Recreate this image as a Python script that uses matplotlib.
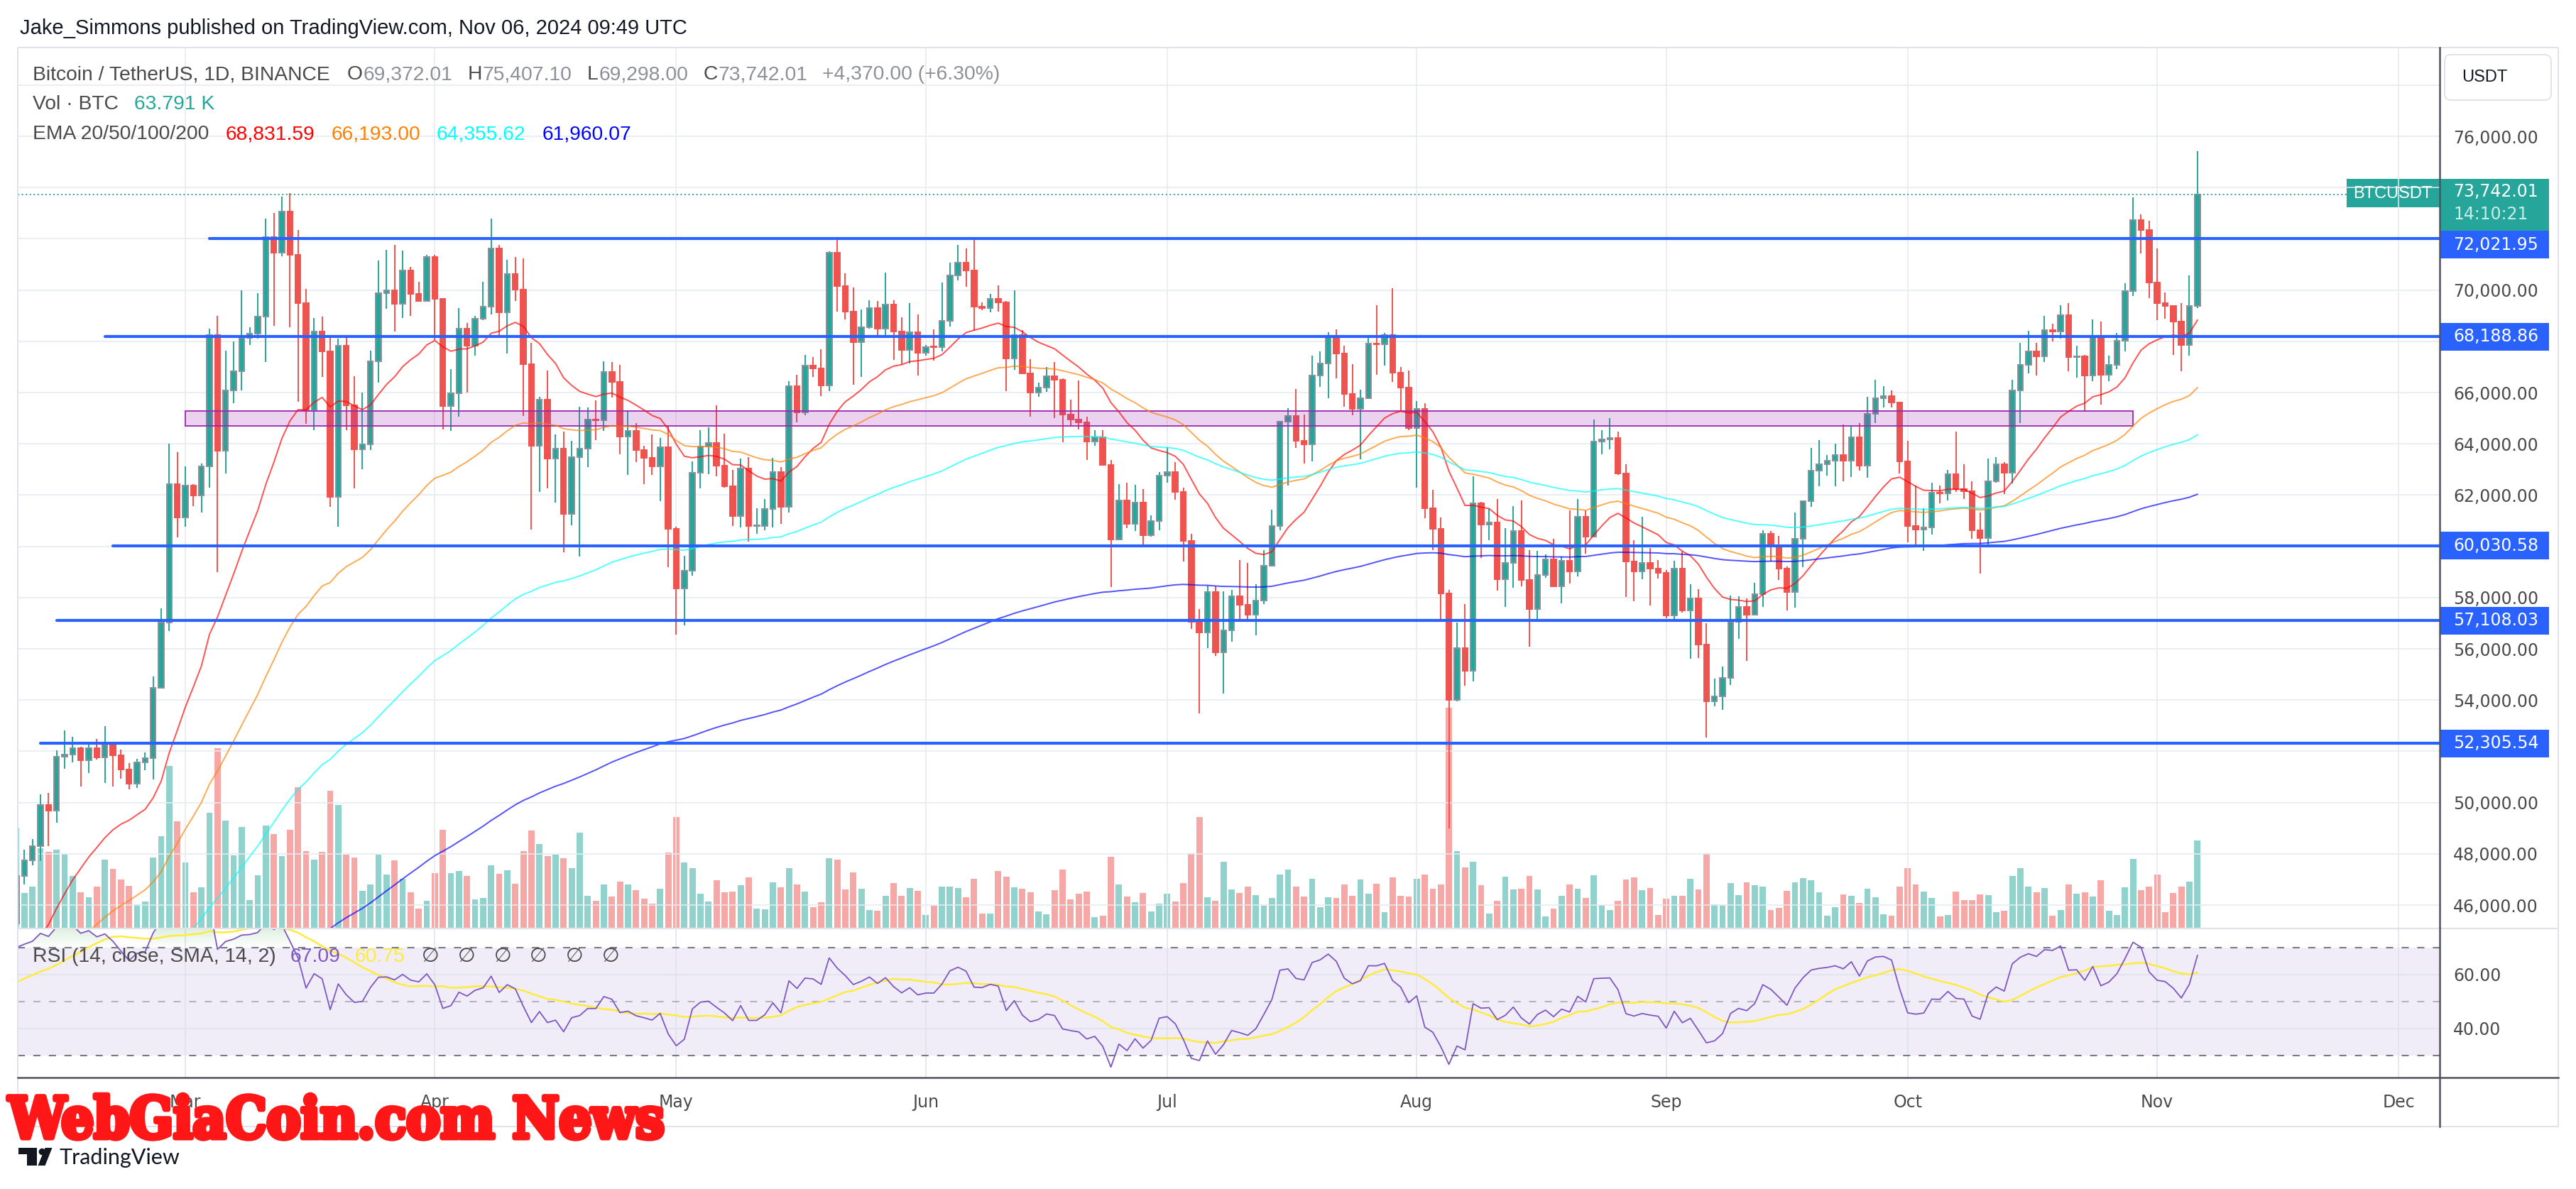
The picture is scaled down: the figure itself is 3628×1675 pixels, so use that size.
import numpy as np
import pandas as pd
import matplotlib
matplotlib.use("Agg")
import matplotlib.pyplot as plt
import matplotlib.dates as mdates
import matplotlib.patheffects as pe
from matplotlib import transforms
from matplotlib.patches import Rectangle, FancyBboxPatch, Polygon, Circle
from matplotlib.lines import Line2D
from matplotlib.path import Path
from matplotlib.colors import LinearSegmentedColormap

plt.rcParams["lines.scale_dashes"] = False

W, H, DPI = 3628, 1675, 100

# ---- data: BTCUSDT daily candles, 2024-02-09 .. 2024-11-06 ----
first_day = "2024-02-09"

opens = [
    # Feb
    45288, 47132, 47751, 48299, 49917, 49699, 51795, 51880, 52124, 51642, 52137, 51774, 52258, 51849, 51288,
    50744, 51568, 51728, 54476, 57037, 62432,
    # Mar
    61130, 62387, 61987, 63113, 68245, 63724, 66074, 66824, 68124, 68313, 68955, 72078, 71452, 73072, 71388,
    69499, 65300, 68393, 67609, 61937, 67840, 65501, 63796, 63990, 67209, 69880, 69988, 69469, 70780, 69850, 69582,
    # Apr
    71281, 69649, 65463, 65963, 68488, 67820, 68897, 69360, 71620, 69146, 70631, 70006, 67117, 63924, 65738,
    63426, 63811, 61277, 63470, 63818, 64941, 64926, 66819, 66414, 64289, 64498, 63770, 63461, 63118, 63866,
    # May
    60672, 58364, 59060, 62882, 63892, 64038, 63162, 62334, 61187, 63049, 60792, 60793, 61448, 62901, 61553,
    66256, 65231, 67051, 66940, 66278, 71446, 70148, 69166, 67969, 68549, 69290, 68507, 69436, 68398, 67652, 68352,
    # Jun
    67540, 67766, 67765, 68809, 70567, 71082, 70757, 69342, 69305, 69648, 69512, 67321, 68243, 66756, 66011,
    66191, 66640, 66490, 65140, 64960, 64828, 64096, 64252, 63180, 60277, 61804, 60864, 61706, 60427, 60987,
    # Jul
    62772, 62899, 62135, 60208, 57050, 56628, 58230, 55857, 56714, 58051, 57725, 57340, 57899, 59231, 60788,
    64870, 65097, 64119, 63975, 66660, 67139, 68165, 67532, 65936, 65372, 65777, 67907, 67896, 68249, 66784, 66188,
    # Aug
    64628, 65354, 61498, 60697, 58161, 54018, 56022, 55134, 61685, 60837, 60923, 58712, 59346, 60587, 58683,
    57541, 58874, 59491, 58427, 59438, 59014, 61157, 60382, 64094, 64178, 64220, 62834, 59415, 59034, 59359, 59123,
    # Sep
    58974, 57301, 59132, 57487, 57971, 56160, 53962, 54160, 54869, 57042, 57635, 57338, 58132, 60498, 59993,
    59132, 58213, 60309, 61759, 62947, 63201, 63348, 63578, 63339, 64262, 63152, 65173, 65769, 65858, 65602,
    # Oct
    63327, 60805, 60650, 60753, 62086, 62058, 62819, 62224, 62160, 60636, 60326, 62540, 63206, 62870, 66083,
    67074, 67620, 67421, 68428, 68378, 69031, 67377, 67426, 66668, 68198, 66698, 67092, 68021, 69962, 72736, 72344,
    # Nov
    70292, 69496, 69374, 68775, 67851, 69372.01,
]

highs = [
    48200, 48170, 48592, 50334, 50368, 52043, 52816, 52572, 52191, 52377, 52488, 52985, 52366, 52065, 51548,
    51698, 51958, 54910, 57588, 64000, 63676,
    63114, 62433, 63231, 68499, 69000, 67637, 67985, 69990, 68541, 69888, 72800, 73000, 73650, 73777, 72357,
    70043, 68904, 68957, 68124, 68100, 68240, 66650, 65999, 67628, 71150, 71561, 71770, 71552, 70916, 70321, 71366,
    71366, 69674, 66903, 69291, 68725, 69000, 70327, 72797, 71758, 71172, 71305, 71227, 67931, 65840, 66868,
    64355, 64486, 64125, 65450, 65419, 65695, 67233, 67200, 67075, 65297, 64820, 63923, 64370, 64228, 64734,
    60780, 59625, 63320, 64545, 64646, 65494, 64390, 62984, 63421, 63469, 61490, 61851, 63450, 63099, 66444,
    66700, 67459, 67400, 67700, 71515, 71979, 70666, 70096, 69250, 69610, 69562, 70687, 69591, 68935, 69500, 69044,
    67860, 68460, 70288, 71063, 71758, 71625, 71997, 69524, 69858, 70195, 69563, 69999, 68449, 67315, 66403,
    66998, 67188, 66556, 65738, 66482, 65066, 64526, 64523, 63369, 62420, 62487, 62389, 62225, 61224, 62892,
    63861, 63288, 62285, 60499, 57546, 58475, 58449, 58236, 58296, 59470, 59359, 58526, 59850, 61420, 64900,
    65388, 66128, 65133, 67442, 67598, 68366, 68474, 67818, 67102, 66112, 68200, 69399, 68318, 70079, 66988, 66849,
    65659, 65596, 62198, 61117, 58305, 57040, 57736, 62745, 61744, 61470, 61858, 60711, 61578, 61800, 59849,
    59817, 59686, 60284, 59617, 61400, 61834, 61400, 64955, 64521, 65000, 64481, 63212, 60234, 61166, 59944, 59462,
    59076, 59425, 59810, 58519, 58327, 56995, 54850, 55318, 58088, 58044, 57981, 58588, 60625, 60610, 60395,
    59210, 61320, 61786, 63850, 64133, 63559, 64000, 64745, 64688, 64817, 65839, 66498, 66260, 66076, 65618,
    64130, 62370, 61477, 62484, 62370, 62975, 64478, 63200, 62543, 61321, 63417, 63480, 63285, 66500, 67950,
    68424, 67939, 69000, 68693, 69400, 69500, 67836, 67472, 68850, 68771, 67454, 68332, 70270, 73620, 72961, 72700,
    71632, 69914, 69391, 69500, 70577, 75407.10,
]

lows = [
    45242, 46800, 47558, 47710, 48300, 49225, 51314, 51566, 50625, 51163, 51677, 50760, 50625, 50940, 50521,
    50585, 51279, 50901, 54450, 56691, 60364,
    60777, 61561, 61320, 62300, 59005, 62849, 65600, 66082, 67861, 68094, 67194, 68620, 71334, 68555, 65630,
    64780, 64533, 66600, 61555, 60775, 64529, 62260, 63000, 63772, 66386, 69280, 68380, 68903, 69007, 69540, 69562,
    68062, 64550, 64493, 65064, 66011, 67447, 68824, 69043, 68210, 67518, 69567, 65086, 60660, 62134, 62274,
    61716, 59768, 60833, 59600, 63090, 64160, 64500, 65800, 63589, 62794, 63297, 62424, 62781, 61765, 59191,
    56552, 56911, 58849, 62274, 62822, 62746, 62285, 60800, 60749, 60187, 60492, 60632, 60750, 60888, 61330,
    64832, 65119, 66600, 65857, 66060, 69162, 68842, 66312, 66600, 68500, 68128, 68250, 67277, 67124, 67128, 66670,
    67447, 67257, 67612, 68567, 70383, 70119, 68420, 69210, 69130, 69172, 66051, 66902, 66765, 65056, 65848,
    66034, 65000, 64060, 64666, 64559, 63379, 63911, 63180, 58402, 60239, 60712, 60606, 60063, 60383, 60632,
    62497, 61806, 59400, 56771, 53485, 56018, 55724, 54260, 56289, 57157, 57178, 56542, 57756, 59218, 60632,
    62373, 63854, 63238, 63329, 66222, 65777, 66559, 65441, 65111, 63400, 65741, 66705, 67067, 66428, 65302, 64530,
    62302, 61100, 59850, 57122, 49000, 53962, 54558, 54730, 59535, 60242, 58286, 57642, 58392, 58433, 56078,
    57098, 58783, 58408, 57787, 58548, 58823, 59724, 60342, 63580, 63773, 62800, 58034, 57860, 58716, 57700, 58744,
    57201, 57128, 57415, 55606, 55643, 52550, 53745, 53629, 54591, 56386, 55545, 57324, 57632, 59400, 58691,
    57493, 57610, 59175, 61555, 62350, 62758, 62357, 62538, 62700, 62947, 62670, 64819, 65422, 65432, 62856,
    60164, 59996, 59828, 60459, 61689, 61798, 62128, 61860, 60300, 58946, 60087, 62487, 62050, 62457, 64800,
    66750, 66666, 67192, 68010, 68100, 66835, 66571, 65260, 66450, 65522, 66439, 66913, 67618, 69760, 71436, 69685,
    68820, 68880, 67478, 66835, 67450, 69298.00,
]

closes = [
    47132, 47751, 48299, 49917, 49699, 51795, 51880, 52124, 51642, 52137, 51774, 52258, 51849, 51288, 50744,
    51568, 51728, 54476, 57037, 62432, 61130,
    62387, 61987, 63113, 68245, 63724, 66074, 66824, 68124, 68313, 68955, 72078, 71452, 73072, 71388, 69499,
    65300, 68393, 67609, 61937, 67840, 65501, 63796, 63990, 67209, 69880, 69988, 69469, 70780, 69850, 69582, 71281,
    69649, 65463, 65963, 68488, 67820, 68897, 69360, 71620, 69146, 70631, 70006, 67117, 63924, 65738, 63426,
    63811, 61277, 63470, 63818, 64941, 64926, 66819, 66414, 64289, 64498, 63770, 63461, 63118, 63866, 60672,
    58364, 59060, 62882, 63892, 64038, 63162, 62334, 61187, 63049, 60792, 60793, 61448, 62901, 61553, 66256,
    65231, 67051, 66940, 66278, 71446, 70148, 69166, 67969, 68549, 69290, 68507, 69436, 68398, 67652, 68352, 67540,
    67766, 67765, 68809, 70567, 71082, 70757, 69342, 69305, 69648, 69512, 67321, 68243, 66756, 66011, 66191,
    66640, 66490, 65140, 64960, 64828, 64096, 64252, 63180, 60277, 61804, 60864, 61706, 60427, 60987, 62772,
    62899, 62135, 60208, 57050, 56628, 58230, 55857, 56714, 58051, 57725, 57340, 57899, 59231, 60788, 64870,
    65097, 64119, 63975, 66660, 67139, 68165, 67532, 65936, 65372, 65777, 67907, 67896, 68249, 66784, 66188, 64628,
    65354, 61498, 60697, 58161, 54018, 56022, 55134, 61685, 60837, 60923, 58712, 59346, 60587, 58683, 57541,
    58874, 59491, 58427, 59438, 59014, 61157, 60382, 64094, 64178, 64220, 62834, 59415, 59034, 59359, 59123, 58974,
    57301, 59132, 57487, 57971, 56160, 53962, 54160, 54869, 57042, 57635, 57338, 58132, 60498, 59993, 59132,
    58213, 60309, 61759, 62947, 63201, 63348, 63578, 63339, 64262, 63152, 65173, 65769, 65858, 65602, 63327,
    60805, 60650, 60753, 62086, 62058, 62819, 62224, 62160, 60636, 60326, 62540, 63206, 62870, 66083, 67074,
    67620, 67421, 68428, 68378, 69031, 67377, 67426, 66668, 68198, 66698, 67092, 68021, 69962, 72736, 72344, 70292,
    69496, 69374, 68775, 67851, 69372, 73742.01,
]

# volume in thousands of BTC
volumes_k = [
    73.1, 25.6, 30.3, 58.0, 55.7, 57.0, 53.9, 37.8, 25.9, 22.5, 30.3, 49.8, 43.0, 35.4, 30.8, 17.3, 19.2, 51.5,
    67.1, 118.0, 77.8,
    47.7, 25.9, 29.5, 84.0, 131.0, 78.3, 52.9, 73.6, 20.2, 38.4, 74.7, 68.4, 52.4, 71.5, 102.6, 56.0, 49.8, 55.5,
    100.1, 89.7, 53.4, 51.3, 27.0, 31.6, 53.4, 38.9, 49.2, 35.8, 25.9, 14.0, 19.7,
    39.9, 71.5, 39.9, 41.5, 37.8, 20.7, 21.8, 45.6, 39.4, 42.0, 32.1, 56.0, 71.0, 61.2, 52.4, 53.4, 50.8, 43.5,
    69.5, 23.3, 19.7, 31.6, 22.8, 33.7, 31.6, 27.6, 21.3, 17.6, 28.5, 55.0,
    80.9, 47.7, 43.5, 24.9, 19.2, 34.7, 25.9, 26.4, 31.1, 36.8, 14.0, 13.5, 33.2, 29.5, 43.5, 31.6, 26.4, 15.0,
    18.7, 50.8, 49.8, 28.0, 40.4, 28.5, 13.0, 12.4, 23.3, 32.7, 23.3, 29.0, 27.0,
    9.3, 16.1, 30.1, 30.1, 29.0, 22.3, 35.8, 10.4, 10.4, 41.5, 37.3, 29.5, 28.5, 25.9, 11.9, 9.8, 27.5, 42.5,
    20.7, 24.9, 26.4, 7.8, 8.8, 51.8, 31.6, 22.8, 18.7, 25.4, 11.9, 17.6,
    24.9, 19.2, 32.7, 54.4, 80.9, 22.3, 19.7, 48.2, 28.0, 25.4, 30.1, 23.8, 16.1, 21.8, 38.9, 42.5, 30.1, 22.8,
    35.8, 15.0, 22.3, 21.8, 31.6, 23.3, 35.3, 24.9, 32.1, 11.4, 36.8, 23.3, 22.8,
    35.8, 38.9, 28.5, 31.6, 160.6, 56.2, 44.1, 48.4, 31.1, 10.4, 19.7, 37.3, 28.0, 28.5, 37.8, 28.0, 8.3, 14.0,
    23.3, 31.6, 28.5, 21.8, 38.4, 16.6, 13.0, 19.7, 35.3, 36.8, 27.5, 29.0, 9.3,
    21.3, 23.3, 23.3, 35.8, 28.0, 54.4, 17.1, 16.6, 32.7, 23.8, 33.2, 31.1, 30.1, 13.0, 14.5, 27.0, 33.2, 36.3,
    34.7, 25.9, 8.8, 15.0, 24.4, 23.3, 18.1, 28.5, 22.3, 9.8, 8.8, 30.1,
    43.5, 31.6, 26.4, 21.8, 8.3, 9.3, 26.4, 20.2, 20.2, 24.4, 23.8, 11.4, 12.4, 37.8, 43.5, 30.1, 25.9, 29.0,
    8.8, 13.0, 31.6, 24.9, 25.9, 22.8, 34.7, 12.4, 9.3, 29.5, 50.3, 27.5, 30.1,
    38.9, 11.4, 25.4, 30.1, 33.7, 63.791,
]

# drawn horizontal levels and the zone box
levels = [72021.95, 68188.86, 60030.58, 57108.03, 52305.54]
level_from = ["2024-03-04", "2024-02-20", "2024-02-21", "2024-02-14", "2024-02-12"]
zone_low, zone_high = 64700, 65280
zone_from, zone_to = "2024-03-01", "2024-10-29"

# EMA settings; seeds are the EMA values on the day before the first candle
ema_spans = [20, 50, 100, 200]
ema_seed = [43000, 42300, 40100, 37600]
ema_colors = ["#FF0000", "#FF8000", "#00FFFF", "#0000FF"]
ema_legend = ["68,831.59", "66,193.00", "64,355.62", "61,960.07"]

# RSI warm-up state before the first candle
rsi_seed_gain, rsi_seed_loss = 700, 360
rsi_prior = [52, 55, 56, 60, 58, 54, 55, 54, 52, 53, 55, 60, 66]

price_ticks = list(range(46000, 80000, 2000))
hidden_ticks = [52000, 60000, 68000, 72000, 74000, 78000]

assert len(opens) == len(highs) == len(lows) == len(closes) == len(volumes_k)

UP, DOWN = "#26A69A", "#EF5350"
BLUE = "#2962FF"
TXT = "#4A4A4A"
FONT = ["Liberation Sans", "DejaVu Sans"]

# ---- indicators ----
dates = pd.date_range(first_day, periods=len(closes), freq="D")
x = mdates.date2num(dates.to_pydatetime())
o, h, l, c = (np.array(v, float) for v in (opens, highs, lows, closes))
up = c >= o

cl = pd.Series(closes, dtype=float)
emas = []
for span, seed in zip(ema_spans, ema_seed):
    s = pd.concat([pd.Series([float(seed)]), cl], ignore_index=True)
    emas.append(s.ewm(span=span, adjust=False).mean().iloc[1:].to_numpy())

delta = cl - pd.Series([opens[0]] + closes[:-1], dtype=float)
gain = pd.concat([pd.Series([float(rsi_seed_gain)]), delta.clip(lower=0)], ignore_index=True)
loss = pd.concat([pd.Series([float(rsi_seed_loss)]), (-delta).clip(lower=0)], ignore_index=True)
avg_g = gain.ewm(alpha=1 / 14, adjust=False).mean().iloc[1:].to_numpy()
avg_l = loss.ewm(alpha=1 / 14, adjust=False).mean().iloc[1:].to_numpy()
rsi = 100 - 100 / (1 + avg_g / avg_l)
rsi_sma = pd.Series(list(rsi_prior) + list(rsi)).rolling(14).mean().iloc[len(rsi_prior):].to_numpy()

# ---- figure ----
fig = plt.figure(figsize=(W / DPI, H / DPI), dpi=DPI, facecolor="white")
PX = transforms.Affine2D().scale(1 / DPI, -1 / DPI).translate(0, H / DPI) + fig.dpi_scale_trans


def rect(x0, y0, x1, y1):
    return [x0 / W, 1 - y1 / H, (x1 - x0) / W, (y1 - y0) / H]


ax = fig.add_axes(rect(25, 67, 3436, 1307))
ax_vol = ax.twinx()
ax_rsi = fig.add_axes(rect(25, 1308, 3436, 1518), sharex=ax)

ymin, ymax = 45116, 79465
xl, xr = x[0] + 0.18, x[0] + 301.1
months = pd.date_range("2024-03-01", "2024-12-01", freq="MS")
mx = mdates.date2num(months.to_pydatetime())

# volume behind everything
ax_vol.bar(x, volumes_k, width=0.78, color=np.where(up, UP, DOWN), alpha=0.5, lw=0)
ax_vol.set_ylim(0, 1240 / 1.928)
ax_vol.set_yticks([])
ax.set_zorder(ax_vol.get_zorder() + 1)
ax.patch.set_visible(False)

# candles
cols = np.where(up, UP, DOWN)
ax.vlines(x, l, h, colors=cols, lw=1.4, zorder=2)
ax.bar(x, np.maximum(np.abs(c - o), 25), bottom=np.minimum(o, c), width=0.66, color=cols,
       edgecolor=np.where(up, "#8C9099", DOWN), lw=1.4, zorder=3)

ax.add_patch(Rectangle((mdates.datestr2num(zone_from), zone_low),
                       mdates.datestr2num(zone_to) - mdates.datestr2num(zone_from), zone_high - zone_low,
                       fc=(0.612, 0.153, 0.690, 0.2), ec="#9C27B0", lw=1.3, zorder=3.5))

for e, col in zip(emas, ema_colors):
    ax.plot(x, e, color=col, lw=1.4, alpha=0.68, zorder=4)

lv = ax.hlines(levels, [mdates.datestr2num(d) for d in level_from], xr, color=BLUE, lw=3, zorder=5)
lv.set_capstyle("round")
ax.axhline(closes[-1], color=UP, lw=1.3, ls=(0, (1.5, 2.5)), zorder=5)

ax.set_xlim(xl, xr)
ax.set_ylim(ymin, ymax)
ax.set_yticks(price_ticks)
ax.set_yticklabels(["" if t in hidden_ticks else f"{t:,.2f}" for t in price_ticks])
ax.yaxis.tick_right()
ax.tick_params(axis="y", length=0, pad=13.7, labelsize=17, labelcolor=TXT)
ax.set_xticks(mx)
ax.tick_params(axis="x", length=0, labelbottom=False)
ax.grid(True, color="#E6EBF1", lw=1.1)
ax.set_axisbelow(True)
for a in (ax, ax_vol, ax_rsi):
    for sp in a.spines.values():
        sp.set_visible(False)

# ---- RSI pane ----
ax_rsi.axhspan(30, 70, color="#7E57C2", alpha=0.1, lw=0, zorder=0.5)
for lvl, alp in [(70, 1.0), (50, 0.5), (30, 1.0)]:
    ax_rsi.axhline(lvl, color="#787B86", alpha=alp, lw=1.5, ls=(0, (7.2, 8.6)), zorder=1)
fb = ax_rsi.fill_between(x, 70, rsi, where=rsi > 70, interpolate=True, color="none", lw=0)
paths = fb.get_paths()
if paths:
    cmap = LinearSegmentedColormap.from_list("ob", [(0.30, 0.69, 0.31, 0.0), (0.30, 0.69, 0.31, 0.8)])
    img = ax_rsi.imshow(np.linspace(0, 1, 256).reshape(-1, 1), extent=[x[0], x[-1], 70, 100],
                        origin="lower", aspect="auto", cmap=cmap, zorder=1.5)
    img.set_clip_path(Path.make_compound_path(*paths), transform=ax_rsi.transData)
ax_rsi.plot(x, rsi_sma, color="#FFEB3B", lw=1.8, zorder=2)
ax_rsi.plot(x, rsi, color="#7E57C2", lw=1.3, zorder=3)
ax_rsi.set_ylim(21.8, 77.1)
ax_rsi.set_xlim(xl, xr)
ax_rsi.set_yticks([40, 60])
ax_rsi.set_yticklabels(["40.00", "60.00"])
ax_rsi.yaxis.tick_right()
ax_rsi.tick_params(axis="y", length=0, pad=13.7, labelsize=17, labelcolor=TXT)
ax_rsi.tick_params(axis="x", length=0, labelbottom=False)
ax_rsi.grid(True, color="#DDE2EC", lw=1.1)
ax_rsi.set_axisbelow(True)

# ---- frame lines ----
def seg(x0, y0, x1, y1, color, lw):
    fig.add_artist(Line2D([x0, x1], [y0, y1], transform=PX, color=color, lw=lw))


light = "#E0E3EB"
seg(25, 67, 3603, 67, light, 1.4)
seg(25, 1587, 3603, 1587, light, 1.4)
seg(25, 67, 25, 1587, light, 1.4)
seg(3603, 67, 3603, 1587, light, 1.4)
seg(25, 1307.5, 3603, 1307.5, light, 1.6)
seg(25, 1518, 3603, 1518, "#50535E", 1.8)
seg(3436, 67, 3436, 1587, "#50535E", 1.8)

# month labels
tmonth = transforms.blended_transform_factory(ax_rsi.transData, PX)
for mv, m in zip(mx, months):
    fig.text(mv, 1553, m.strftime("%b"), transform=tmonth, ha="center", va="center",
             fontsize=17, color=TXT)

# ---- price axis tags ----
ppu = (1307 - 67) / (ymax - ymin)
tprice = transforms.blended_transform_factory(PX, ax.transData)
last = closes[-1]
fig.add_artist(Rectangle((3436, last - 51.4 / ppu), 154, 73 / ppu, transform=tprice, fc=UP, ec="none"))
fig.text(3455, last + 3.6 / ppu, f"{last:,.2f}", transform=tprice, va="center", fontsize=17, color="white")
fig.text(3455, last - 28.4 / ppu, "14:10:21", transform=tprice, va="center", fontsize=17, color="#C9ECE8")
fig.add_artist(Rectangle((3305, last - 18.4 / ppu), 131, 40 / ppu, transform=tprice, fc=UP, ec="none"))
fig.text(3370, last + 1 / ppu, "BTCUSDT", transform=tprice, ha="center", va="center", fontsize=17,
         color="white", family=FONT)

label_nudge = [9, 0, 0, 0, 0]
for lvl, nd in zip(levels, label_nudge):
    cy = lvl - nd / ppu
    fig.add_artist(Rectangle((3436, cy - 19.5 / ppu), 154, 39 / ppu, transform=tprice, fc=BLUE, ec="none"))
    fig.text(3455, cy, f"{lvl:,.2f}", transform=tprice, va="center", fontsize=17, color="white")

fig.add_artist(FancyBboxPatch((3443, 77), 150, 64, boxstyle="round,pad=0,rounding_size=9", transform=PX,
                              fc="white", ec=light, lw=1.4))
fig.text(3467, 109, "USDT", transform=PX, va="center", fontsize=17, color="#131722", family=FONT)

# ---- legends ----
renderer = fig.canvas.get_renderer()


def row(x0, y0, parts, size=20.3):
    xx = x0
    for text, color, gap in parts:
        t = fig.text(xx, y0, text, transform=PX, va="center", ha="left", fontsize=size, color=color, family=FONT)
        xx += t.get_window_extent(renderer).width + gap


fig.text(28, 40, "Jake_Simmons published on TradingView.com, Nov 06, 2024 09:49 UTC", transform=PX,
         va="center", fontsize=21, color="#131722", family=FONT)

grey = "#8E9099"
row(46, 105, [("Bitcoin / TetherUS, 1D, BINANCE", TXT, 24),
              ("O", TXT, 1), (f"{opens[-1]:,.2f}", grey, 21),
              ("H", TXT, 1), (f"{highs[-1]:,.2f}", grey, 21),
              ("L", TXT, 1), (f"{lows[-1]:,.2f}", grey, 21),
              ("C", TXT, 1), (f"{closes[-1]:,.2f}", grey, 21),
              ("+4,370.00 (+6.30%)", grey, 0)])
row(46, 147, [("Vol · BTC", TXT, 22), (f"{volumes_k[-1]:.3f} K", UP, 0)])
row(46, 189, [("EMA 20/50/100/200", TXT, 23)] + [(v, col, 23) for v, col in zip(ema_legend, ema_colors)])
row(46, 1348, [("RSI (14, close, SMA, 14, 2)", TXT, 20), ("67.09", "#7E57C2", 20), ("60.75", "#FFEB3B", 24)]
    + [("∅", TXT, 26)] * 6)

# ---- TradingView logo and watermark ----
ink = "#131722"
fig.add_artist(Rectangle((26, 1617), 26, 9, transform=PX, fc=ink, ec="none"))
fig.add_artist(Rectangle((38, 1617), 14, 25, transform=PX, fc=ink, ec="none"))
fig.add_artist(Circle((59.3, 1622.5), 4.7, transform=PX, fc=ink, ec="none"))
fig.add_artist(Polygon([(63.5, 1617), (73.5, 1617), (63.5, 1642), (53.5, 1642)], transform=PX, fc=ink, ec="none"))
fig.text(84, 1631, "TradingView", transform=PX, va="center", fontsize=22, color=ink, family=["Lato", "DejaVu Sans"])

red = "#FF1616"
wm = fig.text(12, 1603, "WebGiaCoin.com News", transform=PX, va="baseline", ha="left", fontsize=60,
              color=red, family="DejaVu Serif", weight="bold", stretch="condensed",
              path_effects=[pe.withStroke(linewidth=5, foreground=red)])
wm.set_fontsize(60 * 925 / wm.get_window_extent(renderer).width)

fig.savefig("out.png", dpi=DPI, facecolor="white")
